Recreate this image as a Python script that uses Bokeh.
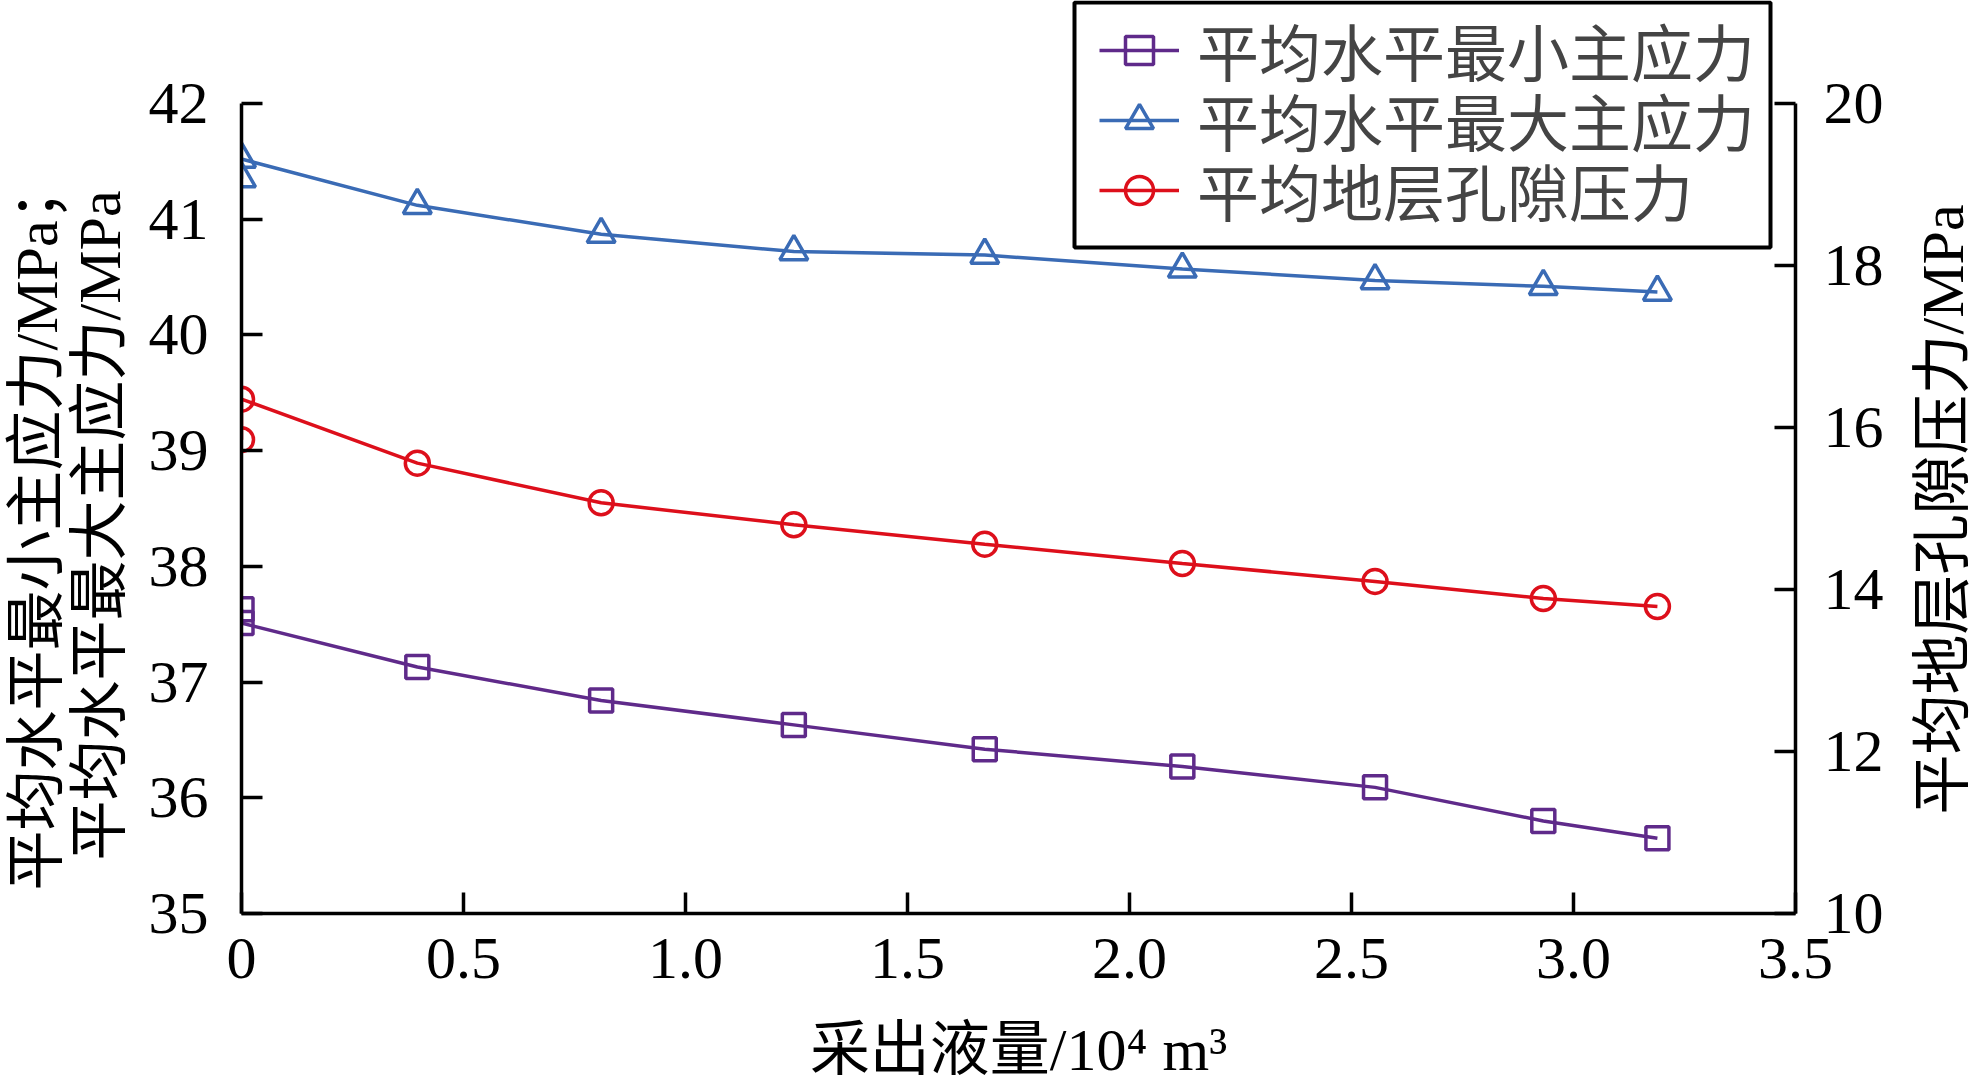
from bokeh.plotting import figure
from bokeh.layouts import row
from bokeh.models import (Range1d, LinearAxis, FixedTicker, Legend, LegendItem,
                          PrintfTickFormatter, BoxAnnotation)
from bokeh.embed import file_html
from bokeh.resources import INLINE

# ---- data ----
x_vals = [0.0, 0.0, 0.396, 0.81, 1.244, 1.674, 2.119, 2.553, 2.932, 3.189]
min_stress = [37.63, 37.51, 37.13, 36.84, 36.63, 36.42, 36.27, 36.09, 35.80, 35.65]
max_stress = [41.35, 41.52, 41.12, 40.87, 40.72, 40.69, 40.57, 40.47, 40.42, 40.37]
pore_pressure = [15.85, 16.35, 15.56, 15.07, 14.80, 14.56, 14.32, 14.10, 13.89, 13.79]

x_ticks = [0, 0.5, 1.0, 1.5, 2.0, 2.5, 3.0, 3.5]
left_ticks = [35, 36, 37, 38, 39, 40, 41, 42]
right_ticks = [10, 12, 14, 16, 18, 20]

labels = ["平均水平最小主应力", "平均水平最大主应力", "平均地层孔隙压力"]
x_title = "采出液量/10⁴ m³"
left_title = "平均水平最小主应力/MPa；\n平均水平最大主应力/MPa"
right_title = "平均地层孔隙压力/MPa"

colors = ["#5F2A8A", "#3A6BB5", "#DD0F1B"]

FONT = "'Liberation Serif', 'Noto Sans CJK SC'"
FS = "60px"

# ---- layout constants (pixels) ----
AXIS_TOP = 103         # canvas y of the 42 / 20 ticks
AXIS_PX = 810          # length of the value axes
FRAME_W = 1554
X_MAX = 3.5
LEFT_LO, LEFT_HI = 35, 42
RIGHT_LO, RIGHT_HI = 10, 20
lpu = AXIS_PX / (LEFT_HI - LEFT_LO)
rpu = AXIS_PX / (RIGHT_HI - RIGHT_LO)
FRAME_H = AXIS_TOP + AXIS_PX   # frame reaches the canvas top (room for the legend)
BOTTOM = 176


def title_figure(text, border_left, centre, n_lines=1):
    """A blank strip whose left axis only carries a rotated title,
    centred at canvas height `centre` (all strips share a zero top border)."""
    f = figure(frame_width=1, frame_height=2 * centre, output_backend="svg",
               toolbar_location=None, x_axis_location=None,
               x_range=Range1d(0, 1), y_range=Range1d(0, 1),
               min_border_left=border_left, min_border_right=0,
               min_border_top=0, min_border_bottom=BOTTOM, align="start")
    f.outline_line_color = None
    f.grid.visible = False
    f.border_fill_color = "white"
    ax = f.yaxis[0]
    ax.ticker = FixedTicker(ticks=[])
    ax.axis_line_color = None
    ax.major_tick_line_color = None
    ax.minor_tick_line_color = None
    ax.major_label_text_font_size = "0px"
    ax.axis_label = text
    ax.axis_label_standoff = 2
    ax.axis_label_text_font = FONT
    ax.axis_label_text_font_size = FS
    ax.axis_label_text_font_style = "normal"
    ax.axis_label_text_color = "black"
    if n_lines > 1:
        ax.axis_label_text_line_height = 0.95
    return f


left_fig = title_figure(left_title, 129, 525, n_lines=2)

p = figure(frame_width=FRAME_W, frame_height=FRAME_H, output_backend="svg",
           toolbar_location=None, align="start",
           x_range=Range1d(0, X_MAX),
           y_range=Range1d(LEFT_LO, LEFT_HI + AXIS_TOP / lpu),
           min_border_left=106, min_border_right=100, min_border_top=0,
           min_border_bottom=BOTTOM)
p.extra_y_ranges = {"pore": Range1d(RIGHT_LO, RIGHT_HI + AXIS_TOP / rpu)}
p.outline_line_color = None
p.xgrid.grid_line_color = None
p.ygrid.grid_line_color = None
p.background_fill_color = "white"
p.border_fill_color = "white"

right_axis = LinearAxis(y_range_name="pore")
p.add_layout(right_axis, "right")
x_axis = p.xaxis[0]
y_axis = p.yaxis[0]

for ax in [x_axis, y_axis, right_axis]:
    ax.axis_line_width = 3.5
    ax.axis_line_color = "black"
    ax.major_tick_line_width = 3.5
    ax.major_tick_line_color = "black"
    ax.major_tick_in = 21
    ax.major_tick_out = 0
    ax.minor_tick_line_color = None
    ax.major_label_text_font = "Liberation Serif"
    ax.major_label_text_font_size = FS
    ax.major_label_text_color = "black"
    ax.axis_label_text_font = FONT
    ax.axis_label_text_font_size = FS
    ax.axis_label_text_font_style = "normal"
    ax.axis_label_text_color = "black"

x_axis.ticker = FixedTicker(ticks=x_ticks)
x_axis.formatter = PrintfTickFormatter(format="%.1f")
x_axis.major_label_overrides = {0: "0"}
x_axis.major_label_standoff = 25
x_axis.axis_label = x_title
x_axis.axis_label_standoff = 36

y_axis.ticker = FixedTicker(ticks=left_ticks)
y_axis.bounds = (LEFT_LO, LEFT_HI)
y_axis.major_label_standoff = 33

right_axis.ticker = FixedTicker(ticks=right_ticks)
right_axis.bounds = (RIGHT_LO, RIGHT_HI)
right_axis.major_label_standoff = 28

l1 = p.line(x_vals, min_stress, line_color=colors[0], line_width=3.5)
s1 = p.scatter(x_vals, min_stress, marker="square", size=23, line_color=colors[0],
               line_width=3.5, fill_color=None)
l2 = p.line(x_vals, max_stress, line_color=colors[1], line_width=3.5)
s2 = p.scatter(x_vals, max_stress, marker="triangle", size=28, line_color=colors[1],
               line_width=3.5, fill_color=None)
l3 = p.line(x_vals, pore_pressure, line_color=colors[2], line_width=3.5, y_range_name="pore")
s3 = p.scatter(x_vals, pore_pressure, marker="circle", size=24, line_color=colors[2],
               line_width=3.5, fill_color=None, y_range_name="pore")

# legend: framed white box + one transparent legend per row
FB = FRAME_H
p.add_layout(BoxAnnotation(left=833, right=1529, top=FB - 2, bottom=FB - 247,
                           left_units="screen", right_units="screen",
                           top_units="screen", bottom_units="screen",
                           fill_color="white", fill_alpha=1.0,
                           line_color="black", line_width=4, line_alpha=1.0))
row_centres = [55, 125, 195]
renderer_sets = [[l1, s1], [l2, s2], [l3, s3]]
for lab, rs, c in zip(labels, renderer_sets, row_centres):
    lg = Legend(items=[LegendItem(label=lab, renderers=rs)],
                location=(858, FB - c - 40), orientation="vertical",
                label_text_font=FONT, label_text_font_size="62px",
                label_height=70, glyph_height=70, glyph_width=80, label_standoff=18,
                spacing=0, padding=0, margin=0,
                border_line_color=None, background_fill_alpha=0.0)
    p.add_layout(lg, "center")

right_fig = title_figure(right_title, 82, 509)

layout = row(left_fig, p, right_fig, align="start")
open("out.html", "w").write(file_html(layout, INLINE))
